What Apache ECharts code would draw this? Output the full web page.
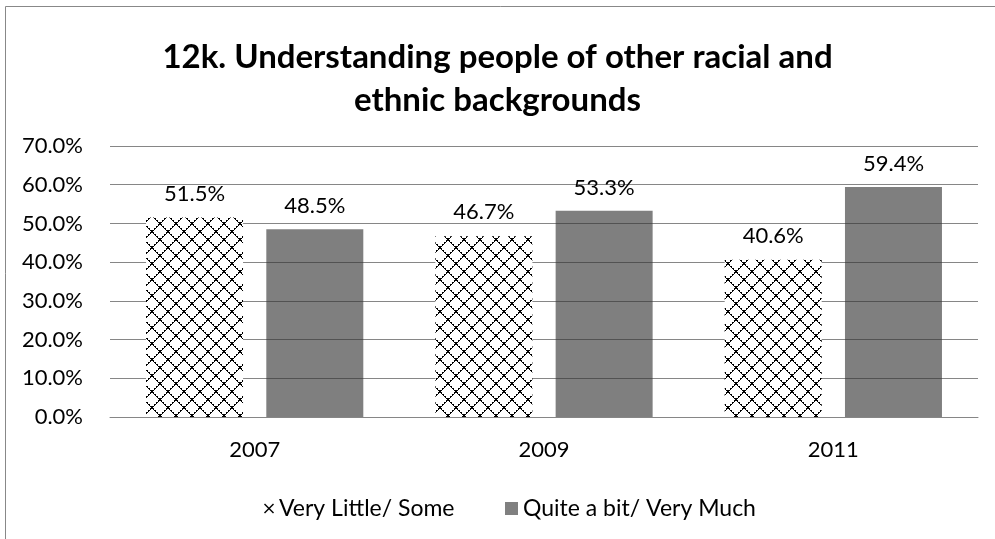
<!DOCTYPE html>
<html>
<head>
<meta charset="utf-8">
<script src="https://cdn.jsdelivr.net/npm/echarts@6/dist/echarts.min.js"></script>
<style>
html,body{margin:0;padding:0;background:#fff;}
#chart{width:995px;height:539px;}
</style>
</head>
<body>
<div id="chart"></div>
<script>
var titleText = '12k. Understanding people of other racial and\nethnic backgrounds';
var categories = ['2007', '2009', '2011'];
var seriesNames = ['Very Little/ Some', 'Quite a bit/ Very Much'];
var veryLittleSome = [51.5, 46.7, 40.6];
var quiteABitVeryMuch = [48.5, 53.3, 59.4];
var yTicks = [0, 10, 20, 30, 40, 50, 60, 70];

var FONT = 'Lato';

// crosshatch pattern tile
var tile = document.createElement('canvas');
tile.width = 16; tile.height = 16;
var tctx = tile.getContext('2d');
tctx.fillStyle = '#ffffff';
tctx.fillRect(0, 0, 16, 16);
tctx.fillStyle = '#000000';
for (var k = 0; k < 8; k++) {
  tctx.fillRect(2 * k, 2 * k, 1, 1);
  tctx.fillRect(2 * k + 1, 2 * k + 1, 1, 1);
  tctx.fillRect(2 * k + 1, 2 * k, 1, 1);
  tctx.fillRect(14 - 2 * k + 1, 2 * k, 1, 1);
  tctx.fillRect(14 - 2 * k, 2 * k + 1, 1, 1);
  tctx.fillRect(14 - 2 * k, 2 * k, 1, 1);
}

var chart = echarts.init(document.getElementById('chart'), null, {renderer: 'canvas'});
var option = {
  backgroundColor: '#ffffff',
  animation: false,
  textStyle: {fontFamily: FONT},
  title: {
    text: titleText,
    left: 'center',
    top: 31,
    textStyle: {fontFamily: FONT, fontWeight: 'bold', fontSize: 33, color: '#000', lineHeight: 43}
  },
  graphic: [{
    type: 'rect',
    shape: {x: 5.5, y: 6.5, width: 1000, height: 600},
    style: {fill: 'none', stroke: '#888888', lineWidth: 1},
    silent: true,
    z: -1
  }],
  grid: {left: 110, right: 17, top: 146, bottom: 122},
  legend: [{
    data: [{name: seriesNames[0], icon: 'path://M0,1L1,0L5,4L9,0L10,1L6,5L10,9L9,10L5,6L1,10L0,9L4,5Z', itemStyle: {color: '#000'}}],
    left: 259, top: 492, itemWidth: 10, itemHeight: 10, itemGap: 8,
    textStyle: {fontFamily: FONT, fontSize: 23, color: '#000'}
  }, {
    data: [{name: seriesNames[1], icon: 'rect', itemStyle: {color: '#808080', opacity: 1}}],
    left: 500, top: 492, itemWidth: 13, itemHeight: 13, itemGap: 5,
    textStyle: {fontFamily: FONT, fontSize: 23, color: '#000'}
  }],
  xAxis: {
    type: 'category',
    data: categories,
    axisLine: {show: true, lineStyle: {color: '#868686', width: 1}},
    axisTick: {show: false},
    axisLabel: {fontFamily: FONT, fontSize: 22, color: '#000', margin: 22}
  },
  yAxis: {
    type: 'value',
    min: yTicks[0],
    max: yTicks[yTicks.length - 1],
    interval: 10,
    axisLine: {show: false},
    axisTick: {show: false},
    splitLine: {lineStyle: {color: '#868686', width: 1}},
    axisLabel: {fontFamily: FONT, fontSize: 22, color: '#000', margin: 27,
      formatter: function (v) { return v.toFixed(1) + '%'; }}
  },
  series: [{
    name: seriesNames[0],
    type: 'bar',
    data: veryLittleSome,
    barWidth: 97,
    barGap: '24%',
    itemStyle: {color: {image: tile, repeat: 'repeat'}},
    label: {show: true, position: 'top', distance: 13, fontFamily: FONT, fontSize: 22, color: '#000',
      formatter: function (p) { return p.value.toFixed(1) + '%'; }}
  }, {
    name: seriesNames[1],
    type: 'bar',
    data: quiteABitVeryMuch,
    barWidth: 97,
    barGap: '24%',
    itemStyle: {color: 'rgba(52,52,52,0.63)'},
    label: {show: true, position: 'top', distance: 12, fontFamily: FONT, fontSize: 22, color: '#000',
      formatter: function (p) { return p.value.toFixed(1) + '%'; }}
  }]
};
chart.setOption(option);
</script>
</body>
</html>
